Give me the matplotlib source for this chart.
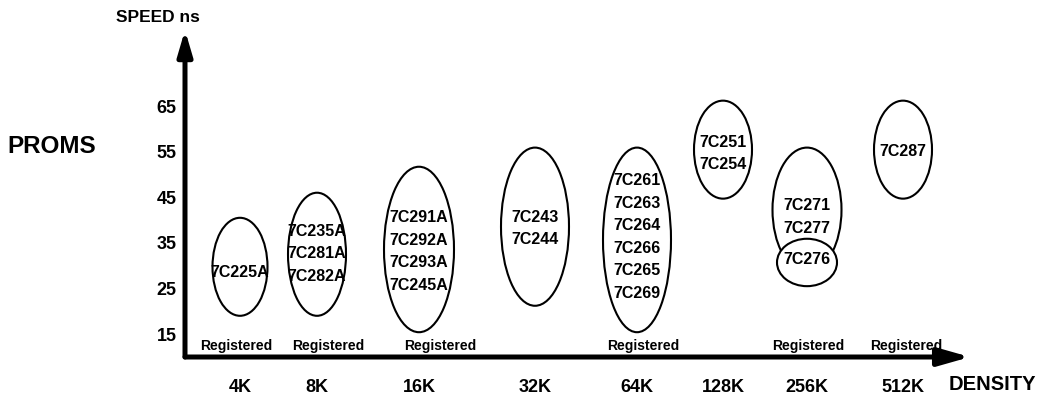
import matplotlib
matplotlib.use('Agg')
import matplotlib.pyplot as plt
from matplotlib.patches import Ellipse

plt.rcParams['font.family'] = ['Liberation Sans', 'DejaVu Sans']
plt.rcParams['font.weight'] = 'bold'

# Categorie di densita' e velocita' (ns)
densities = ['4K', '8K', '16K', '32K', '64K', '128K', '256K', '512K']
speeds = [15, 25, 35, 45, 55, 65]

# Famiglie di PROM: densita', intervallo di velocita', nomi
group_density = ['4K', '8K', '16K', '32K', '64K', '128K', '256K', '256K', '512K']
group_lo = [19, 19, 15.4, 21.2, 15.4, 44.7, 28.6, 25.5, 44.7]
group_hi = [40.5, 46, 51.7, 55.9, 55.9, 66.2, 55.9, 35.9, 66.2]
group_mid = [28.4, 32.6, 33.1, 38.1, 36.3, 54.6, 40.7, 31.3, 55.0]
group_parts = [
    ['7C225A'],
    ['7C235A', '7C281A', '7C282A'],
    ['7C291A', '7C292A', '7C293A', '7C245A'],
    ['7C243', '7C244'],
    ['7C261', '7C263', '7C264', '7C266', '7C265', '7C269'],
    ['7C251', '7C254'],
    ['7C271', '7C277'],
    ['7C276'],
    ['7C287'],
]
registered = ['4K', '8K', '16K', '64K', '256K', '512K']

# Layout (posizioni irregolari come nell'originale)
x_pos = [0.55, 1.32, 2.34, 3.50, 4.52, 5.38, 6.22, 7.18]
group_w = [0.55, 0.58, 0.70, 0.68, 0.68, 0.58, 0.69, 0.60, 0.58]
reg_dx = [-0.04, 0.11, 0.21, 0.06, 0.01, 0.03]
line_step = 4.92

fig = plt.figure(figsize=(10.41, 3.96), dpi=100)
ax = fig.add_axes([185 / 1041, 39 / 396, 785 / 1041, 327 / 396])
ax.set_xlim(0, 7.85)
ax.set_ylim(9.96, 81.7)
for s in ax.spines.values():
    s.set_visible(False)

xmap = dict(zip(densities, x_pos))

# Ellissi e nomi dei dispositivi
for i, d in enumerate(group_density):
    cx = xmap[d]
    cy = (group_lo[i] + group_hi[i]) / 2
    h = group_hi[i] - group_lo[i]
    ax.add_patch(Ellipse((cx, cy), group_w[i], h, facecolor='white',
                         edgecolor='black', lw=1.5, zorder=2 + i))
    parts = group_parts[i]
    n = len(parts)
    for k, p in enumerate(parts):
        y = group_mid[i] + ((n - 1) / 2 - k) * line_step
        ax.text(cx, y, p, ha='center', va='center', fontsize=11.5,
                fontweight='bold', zorder=20)

# Etichette "Registered"
for d, dx in zip(registered, reg_dx):
    ax.text(xmap[d] + dx, 12.4, 'Registered', ha='center', va='center',
            fontsize=10, fontweight='bold', zorder=20)

# Assi con frecce
ax.annotate('', xy=(1, 0), xytext=(0, 0), xycoords='axes fraction',
            arrowprops=dict(arrowstyle='-|>,head_length=0.95,head_width=0.27',
                            lw=3.6, color='black', mutation_scale=20,
                            shrinkA=0, shrinkB=0), annotation_clip=False)
ax.annotate('', xy=(0, 1), xytext=(0, 0), xycoords='axes fraction',
            arrowprops=dict(arrowstyle='-|>,head_length=0.75,head_width=0.22',
                            lw=3.6, color='black', mutation_scale=20,
                            shrinkA=0, shrinkB=0), annotation_clip=False)

ax.set_xticks(x_pos)
ax.set_xticklabels(densities, fontsize=13, fontweight='bold')
ax.set_yticks(speeds)
ax.set_yticklabels([str(s) for s in speeds], fontsize=13, fontweight='bold')
ax.tick_params(axis='x', length=0, pad=16)
ax.tick_params(axis='y', length=0, pad=6)

fig.text(992 / 1041, 1 - 385 / 396, 'DENSITY', ha='center', va='center',
         fontsize=14.5, fontweight='bold')
fig.text(158 / 1041, 1 - 18 / 396, 'SPEED ns', ha='center', va='center',
         fontsize=12.5, fontweight='bold')
fig.text(52 / 1041, 1 - 146 / 396, 'PROMS', ha='center', va='center',
         fontsize=17.5, fontweight='bold')

fig.savefig('out.png', dpi=100, facecolor='white')
